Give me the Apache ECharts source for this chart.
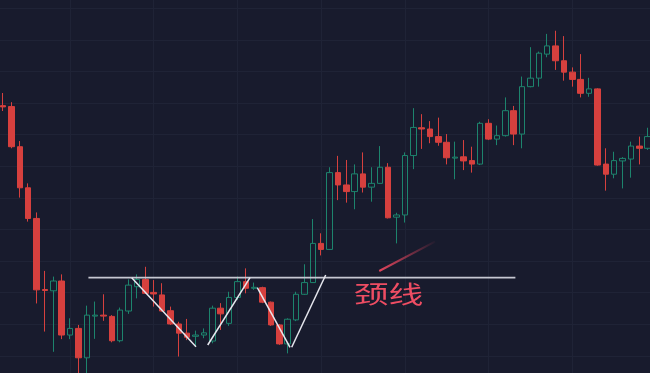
<!DOCTYPE html>
<html><head><meta charset="utf-8">
<script src="https://cdn.jsdelivr.net/npm/echarts@6/dist/echarts.min.js"></script>
<style>html,body{margin:0;padding:0;background:#181b2d;overflow:hidden}#c{width:650px;height:373px}</style>
</head><body><div id="c"></div>
<script>
const categories = ['1','2','3','4','5','6','7','8','9','10','11','12','13','14','15','16','17','18','19','20',
'21','22','23','24','25','26','27','28','29','30','31','32','33','34','35','36','37','38','39','40',
'41','42','43','44','45','46','47','48','49','50','51','52','53','54','55','56','57','58','59','60',
'61','62','63','64','65','66','67','68','69','70','71','72','73','74','75','76','77','78'];
const opens  = [89.2,88.9,76.2,63.2,53.5,31.0,30.6,33.7,16.6,18.7,9.4,22.6,22.9,22.5,14.8,24.2,31.9,34.2,30.1,29.3,
24.3,20.1,17.2,16.2,16.6,14.7,25.1,20.3,28.5,33.5,31.4,31.6,27.0,19.8,13.8,21.4,29.5,33.2,45.6,43.7,
68.0,64.1,62.0,67.6,63.4,64.6,69.7,53.9,54.6,73.4,82.2,81.8,79.4,77.6,72.6,73.0,71.8,70.7,83.6,78.6,
79.7,87.6,80.2,95.2,97.9,105.5,108.1,103.4,99.8,97.5,93.1,94.5,70.7,67.5,71.7,72.3,76.4,75.7];
const closes = [88.8,76.2,63.2,53.5,30.9,30.7,33.7,16.6,18.7,9.4,22.9,22.9,22.6,14.8,24.5,32.4,34.2,29.8,29.6,24.2,
20.1,17.2,15.9,16.6,17.3,25.1,23.3,28.5,33.5,31.4,31.7,27.0,19.8,13.8,21.6,29.5,33.2,45.6,43.7,68.0,
64.1,62.0,67.6,63.4,64.6,69.7,53.7,54.6,73.4,82.3,81.8,79.4,77.6,72.7,72.9,71.7,70.7,83.6,78.6,79.7,
87.6,80.2,95.2,97.9,105.8,108.1,103.4,99.8,97.5,93.1,94.5,70.4,67.5,71.8,72.5,76.4,75.7,79.4];
const lows   = [87.5,75.7,60.1,52.5,26.6,17.7,11.3,15.3,15.3,1.7,0.8,15.4,21.1,14.3,14.3,23.3,28.2,29.6,25.6,24.0,
19.8,9.8,15.0,12.9,15.6,14.0,18.2,19.5,27.7,29.8,30.9,26.7,19.5,13.5,10.8,21.0,29.3,33.1,41.8,43.5,
59.3,58.5,56.4,61.7,58.8,64.5,53.5,45.6,52.2,69.1,75.5,77.3,76.5,70.6,65.9,68.8,68.0,70.4,78.3,76.7,
79.4,76.7,75.7,95.0,95.2,104.5,100.5,97.1,95.2,91.8,92.0,70.2,62.3,66.2,63.0,66.4,70.6,75.2];
const highs  = [93.2,90.3,78.0,64.6,55.4,36.9,35.1,35.8,21.9,19.8,25.9,27.2,29.5,22.9,25.3,34.2,35.8,38.2,34.0,33.0,
25.6,20.8,21.7,18.0,18.7,25.9,26.7,30.3,35.1,37.7,33.2,31.9,27.2,20.1,21.9,30.3,39.0,53.3,48.8,69.7,
73.3,72.0,70.6,74.4,69.7,76.4,71.0,55.3,74.4,88.4,86.5,84.3,85.4,80.2,77.8,78.3,76.2,84.1,84.9,82.9,
91.8,89.1,98.4,107.7,106.3,111.9,112.9,111.2,101.3,105.5,98.0,94.7,75.7,74.6,72.9,77.8,79.4,82.2];
const yTicks = [0,10,20,30,40,50,60,70,80,90,100,110,120,130];
// annotation positions in data space: [candle index, price]
const neckline = [[10.2,34.75],[61.2,34.75]];
const wLeg1 = [[15.37,34.75],[23.05,12.9]];
const wLeg2 = [[24.45,13.45],[29.5,34.75]];
const wLeg3 = [[30.37,31.58],[34.28,12.72]];
const wLeg4 = [[34.48,12.72],[38.54,35.6]];
const arrowLine = [[44.94,36.87],[51.6,46.14]];
const labelPos = [46.04,29.5];
const labelText = '颈线';

const PAD_L = 2, PAD_R = 1;
const axisCats = ['', ''].concat(categories, ['']);
const kData = [];
for (let i = 0; i < PAD_L; i++) kData.push('-');
categories.forEach((c, i) => kData.push([opens[i], closes[i], lows[i], highs[i]]));
for (let i = 0; i < PAD_R; i++) kData.push('-');

const BG = '#181b2d', GRIDC = '#1f2336';
const UP = '#1d846d', DOWN = '#d6403e';
const band = 8.372;
const chart = echarts.init(document.getElementById('c'), null, {renderer: 'canvas'});
const lineSeries = (d, color, w) => ({
  type: 'line', xAxisIndex: 1, yAxisIndex: 0, data: d, symbol: 'none', silent: true,
  lineStyle: {color: color, width: w}, z: 5
});
chart.setOption({
  backgroundColor: BG,
  animation: false,
  grid: {left: 3.03 - PAD_L * band, width: (axisCats.length - 1) * band, top: -23.3, height: 410.8, outerBoundsMode: 'none'},
  xAxis: [{
    type: 'category', data: axisCats, boundaryGap: false,
    axisLine: {show: false}, axisTick: {show: false}, axisLabel: {show: false},
    splitLine: {show: true, interval: 9, lineStyle: {color: GRIDC, width: 1}}
  }, {
    type: 'value', min: -PAD_L, max: axisCats.length - 1 - PAD_L, show: false
  }],
  yAxis: {
    type: 'value', min: yTicks[0], max: yTicks[yTicks.length - 1], interval: yTicks[1] - yTicks[0],
    axisLine: {show: false}, axisTick: {show: false}, axisLabel: {show: false},
    splitLine: {show: true, lineStyle: {color: GRIDC, width: 1}}
  },
  series: [{
    type: 'candlestick', data: kData, barWidth: 6,
    itemStyle: {color: 'transparent', color0: DOWN, borderColor: UP, borderColor0: DOWN, borderWidth: 1}
  },
  lineSeries(neckline, '#c6c8d2', 1.8),
  lineSeries(wLeg1, '#e6e7ee', 1.5),
  lineSeries(wLeg2, '#e6e7ee', 1.5),
  lineSeries(wLeg3, '#e6e7ee', 1.5),
  lineSeries(wLeg4, '#e6e7ee', 1.5),
  lineSeries(arrowLine, new echarts.graphic.LinearGradient(0, 0, 1, 0, [
    {offset: 0, color: 'rgba(236,70,94,1)'}, {offset: 1, color: 'rgba(236,70,94,0)'}]), 2)
  ]
});
const p = chart.convertToPixel({xAxisIndex: 1, yAxisIndex: 0}, labelPos);
chart.setOption({graphic: [{
  type: 'text', x: p[0], y: p[1], scaleX: 1.45, scaleY: 1, z: 10,
  style: {text: labelText, fill: '#ee4d63', font: '24px "Noto Sans CJK SC", sans-serif', textAlign: 'center', textVerticalAlign: 'middle'}
}]});
</script></body></html>
